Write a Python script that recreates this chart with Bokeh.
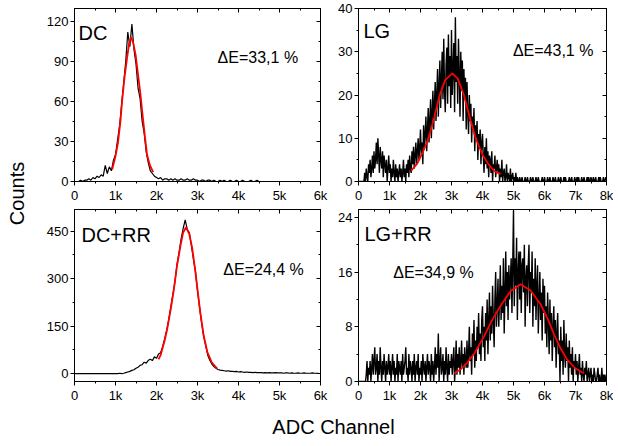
import numpy as np
from bokeh.plotting import figure
from bokeh.models import LinearAxis, FixedTicker, Range1d, Label, CustomLabelingPolicy
from bokeh.layouts import row, column
from bokeh.embed import file_html
from bokeh.resources import INLINE

FONT = "Liberation Sans"

# ---------------- data ----------------
dc_step = 50   # ADC channels per plotted bin (DC panels)
lg_step = 25   # ADC channels per plotted bin (LG panels)

# DC (0..6k)
dc_counts = [0, 0, 0, 1, 0, 1, 1, 2, 1, 3,
             2, 4, 3, 5, 4, 12, 6, 11, 8, 16,
             20, 31, 42, 58, 74, 90, 112, 101, 118, 99,
             88, 70, 62, 45, 36, 22, 14, 8, 6, 4,
             3, 2, 3, 1, 2, 2, 1, 2, 1, 2,
             1, 1, 2, 1, 1, 2, 1, 1, 2, 1,
             1, 0, 1, 1, 0, 1, 1, 0, 1, 0,
             0, 1, 0, 1, 0, 0, 1, 0, 0, 1,
             0, 0, 1, 0, 0, 0, 1, 0, 0, 1,
             0, 0, 0, 0, 0, 0, 0, 0, 0, 0,
             0, 0, 0, 0, 0, 0, 0, 0, 0, 0,
             0, 0, 0, 0, 0, 0, 0, 0, 0, 0]
dc_fit_x = [920, 1000, 1060, 1120, 1160, 1220, 1280, 1330, 1380, 1430, 1490,
            1550, 1610, 1660, 1720, 1770, 1840, 1920]
dc_fit_y = [9, 19, 29, 45, 60, 78, 92, 103, 108, 104, 95, 80, 65, 50, 33, 20, 12, 7]

# DC+RR (0..6k)
dcrr_counts = [0, 0, 0, 0, 0, 0, 0, 0, 0, 0,
               0, 0, 0, 0, 0, 0, 0, 0, 0, 0,
               0, 0, 1, 0, 1, 3, 5, 7, 10, 12,
               17, 20, 26, 28, 36, 33, 42, 45, 41, 53,
               48, 62, 66, 85, 110, 138, 172, 212, 250, 290,
               345, 382, 425, 458, 485, 455, 445, 405, 362, 322,
               262, 210, 160, 118, 88, 58, 42, 30, 22, 17,
               13, 11, 10, 9, 8, 9, 7, 7, 6, 7,
               5, 6, 5, 4, 5, 4, 4, 3, 4, 3,
               3, 3, 2, 3, 2, 3, 2, 2, 3, 2,
               2, 2, 1, 2, 2, 1, 2, 1, 1, 2,
               1, 1, 2, 1, 1, 1, 2, 1, 1, 1]
dcrr_fit_x = [2050, 2100, 2200, 2260, 2350, 2420, 2500, 2590, 2650, 2720, 2800,
              2870, 2950, 3000, 3070, 3150, 3240, 3350, 3480]
dcrr_fit_y = [45, 58, 105, 140, 205, 263, 340, 407, 445, 462, 440, 397, 320, 265,
              191, 120, 68, 35, 16]

# LG (0..8k)
lg_counts = [0, 0, 0, 0, 0, 0, 0, 0, 2, 0, 3, 1, 0, 4, 2, 5, 1, 3, 6, 2,
             7, 3, 5, 9, 4, 10, 6, 2, 8, 5, 3, 7, 1, 6, 4, 2, 5, 0, 3, 6,
             2, 4, 0, 3, 1, 5, 2, 0, 4, 1, 3, 0, 2, 4, 1, 3, 0, 2, 5, 1,
             3, 0, 4, 2, 5, 1, 6, 3, 2, 7, 4, 8, 3, 6, 9, 4, 7, 10, 5, 8,
             12, 6, 9, 4, 13, 8, 11, 15, 7, 12, 17, 9, 14, 19, 10, 16, 21, 12, 18, 23,
             14, 20, 26, 15, 22, 28, 17, 24, 30, 19, 33, 21, 16, 27, 31, 18, 34, 22, 29, 17,
             35, 20, 26, 32, 16, 38, 23, 29, 18, 33, 25, 15, 30, 21, 28, 14, 26, 19, 24, 12,
             23, 16, 11, 20, 14, 18, 9, 15, 12, 17, 7, 13, 10, 14, 5, 11, 8, 12, 4, 9,
             11, 6, 2, 8, 4, 10, 3, 7, 1, 6, 5, 2, 7, 0, 4, 3, 6, 1, 3, 5,
             2, 4, 0, 3, 1, 5, 0, 2, 3, 0, 1, 4, 0, 2, 1, 0, 3, 0, 1, 2,
             0, 1, 0, 2, 0, 1, 0, 0, 1, 0, 0, 1, 0, 0, 0, 1, 0, 0, 1, 0,
             0, 0, 1, 0, 0, 1, 0, 0, 0, 1, 0, 0, 1, 0, 0, 0, 0, 1, 0, 0,
             1, 0, 0, 0, 1, 0, 0, 1, 0, 0, 0, 1, 0, 0, 1, 0, 0, 0, 1, 0,
             0, 1, 0, 0, 0, 1, 0, 1, 0, 0, 0, 0, 1, 0, 0, 1, 0, 0, 0, 1,
             0, 0, 1, 0, 1, 0, 0, 0, 1, 0, 0, 1, 0, 0, 0, 1, 0, 1, 0, 0,
             1, 0, 0, 1, 0, 0, 1, 0, 0, 0, 1, 0, 1, 0, 0, 0, 1, 0, 0, 1]
lg_fit_x = [1700, 1900, 2100, 2260, 2450, 2620, 2800, 3030, 3200, 3400, 3600,
            3780, 4000, 4200, 4370, 4580]
lg_fit_y = [2.5, 4.2, 7.2, 10, 15, 20, 23.5, 25, 23.8, 20, 14.5, 10, 6.2, 3.9, 2.5, 1.7]

# LG+RR (0..8k)
lgrr_counts = [0, 0, 0, 0, 0, 0, 0, 0, 0, 0, 1, 3, 0, 2, 1, 3, 0, 2, 4, 1,
               3, 5, 1, 2, 4, 0, 3, 1, 5, 2, 0, 3, 1, 4, 2, 0, 3, 1, 2, 4,
               1, 3, 0, 2, 4, 1, 3, 0, 2, 1, 4, 0, 3, 2, 1, 3, 0, 4, 1, 2,
               3, 5, 1, 2, 0, 4, 1, 3, 2, 0, 3, 1, 4, 0, 2, 3, 1, 4, 0, 2,
               1, 3, 0, 4, 2, 1, 3, 0, 2, 4, 1, 3, 2, 0, 4, 1, 3, 0, 2, 5,
               1, 4, 2, 7, 0, 3, 5, 1, 2, 4, 0, 3, 1, 5, 2, 0, 4, 1, 3, 2,
               4, 1, 3, 5, 0, 2, 6, 1, 4, 2, 5, 1, 3, 6, 2, 4, 1, 5, 3, 2,
               6, 2, 4, 8, 3, 5, 1, 7, 4, 9, 2, 6, 3, 8, 5, 10, 4, 7, 3, 9,
               11, 5, 8, 3, 10, 6, 12, 4, 9, 13, 6, 11, 7, 14, 9, 5, 12, 16, 8, 11,
               15, 8, 12, 17, 9, 14, 10, 18, 7, 13, 19, 11, 16, 9, 17, 12, 15, 18, 10, 17,
               25, 11, 18, 14, 21, 9, 16, 19, 12, 19, 10, 17, 18, 13, 20, 8, 15, 17, 11, 17,
               20, 10, 16, 13, 19, 8, 15, 11, 18, 9, 14, 17, 7, 12, 16, 9, 13, 6, 15, 10,
               14, 7, 11, 5, 13, 9, 4, 12, 6, 10, 3, 8, 11, 5, 9, 2, 7, 10, 4, 6,
               0, 8, 3, 6, 1, 9, 4, 2, 7, 3, 5, 0, 6, 2, 4, 1, 5, 0, 3, 2,
               4, 1, 3, 0, 2, 4, 1, 2, 0, 3, 1, 0, 2, 1, 3, 0, 1, 2, 0, 1,
               2, 0, 1, 0, 2, 1, 0, 0, 1, 2, 0, 1, 0, 0, 2, 0, 1, 0, 1, 0]
lgrr_fit_x = [3090, 3300, 3500, 3750, 4050, 4300, 4590, 4900, 5230, 5550, 5870,
              6100, 6300, 6500, 6730, 7000, 7270]
lgrr_fit_y = [1.2, 1.8, 2.7, 4.2, 6.6, 8.9, 11.1, 13.2, 14.2, 13.3, 11.3, 9.2, 7.0,
              5.0, 3.2, 1.9, 1.2]

# ticks
x6_ticks = [0, 1000, 2000, 3000, 4000, 5000, 6000]
x6_labels = ["0", "1k", "2k", "3k", "4k", "5k", "6k"]
x8_ticks = [0, 1000, 2000, 3000, 4000, 5000, 6000, 7000, 8000]
x8_labels = ["0", "1k", "2k", "3k", "4k", "5k", "6k", "7k", "8k"]
dc_yticks = [0, 30, 60, 90, 120]
lg_yticks = [0, 10, 20, 30, 40]
dcrr_yticks = [0, 150, 300, 450]
lgrr_yticks = [0, 8, 16, 24]


def minor_of(ticks, lo, hi):
    step = (ticks[1] - ticks[0]) / 2.0
    out = []
    v = ticks[0] - step * 4
    while v <= hi + 1e-9:
        if v >= lo - 1e-9:
            out.append(v)
        v += step
    return out


NO_LABELS = CustomLabelingPolicy(code="""
const n = indices.size;
for (let i = 0; i < n; i++) { indices.unset(i); }
return indices;
""")


def make_panel(width, height, bl, br, bt, bb, xr, yr, xticks, xlabels, yticks):
    p = figure(width=width, height=height, title=None,
               x_range=Range1d(*xr), y_range=Range1d(*yr),
               output_backend="svg", toolbar_location=None,
               min_border_left=bl, min_border_right=br,
               min_border_top=bt, min_border_bottom=bb)
    p.grid.visible = False
    p.outline_line_color = "black"
    p.background_fill_color = "white"
    p.border_fill_color = "white"
    xt = FixedTicker(ticks=xticks, minor_ticks=minor_of(xticks, *xr))
    yt = FixedTicker(ticks=yticks, minor_ticks=minor_of(yticks, *yr))
    for ax, tk in ((p.xaxis[0], xt), (p.yaxis[0], yt)):
        ax.ticker = tk
        ax.major_tick_out = 4
        ax.major_tick_in = 0
        ax.minor_tick_out = 2
        ax.minor_tick_in = 0
        ax.major_label_standoff = 2
        ax.major_label_text_font = FONT
        ax.major_label_text_font_size = "13px"
        ax.major_label_text_color = "black"
        ax.axis_line_color = "black"
        ax.major_tick_line_color = "black"
        ax.minor_tick_line_color = "black"
    p.xaxis[0].major_label_overrides = {t: l for t, l in zip(xticks, xlabels)}
    for side, tk in (("above", xt), ("right", yt)):
        ax = LinearAxis(ticker=tk, major_label_policy=NO_LABELS,
                        major_label_text_font_size="1px",
                        major_label_standoff=0,
                        major_tick_in=4, major_tick_out=0,
                        minor_tick_in=2, minor_tick_out=0,
                        axis_line_color="black",
                        major_tick_line_color="black",
                        minor_tick_line_color="black")
        p.add_layout(ax, side)
    return p


def add_texts(p, name, nx, ny, de, dx, dy):
    p.add_layout(Label(x=nx, y=ny, text=name, text_font=FONT, text_font_size="20px",
                       text_color="black", text_baseline="alphabetic"))
    p.add_layout(Label(x=dx, y=dy, text=de, text_font=FONT, text_font_size="16px",
                       text_color="black", text_baseline="alphabetic"))


def draw(p, counts, step, fx, fy, lw):
    x = np.arange(len(counts)) * step
    p.line(x, counts, line_color="black", line_width=lw)
    p.line(fx, fy, line_color="red", line_width=1.8)


p1 = make_panel(297, 205, 36, 15, 8, 22, (0, 6000), (0, 129.6), x6_ticks, x6_labels, dc_yticks)
draw(p1, dc_counts, dc_step, dc_fit_x, dc_fit_y, 1.2)
add_texts(p1, "DC", 100, 111, "\u0394E=33,1 %", 3490, 93)

p2 = make_panel(278, 205, 22, 7, 8, 22, (0, 8000), (0, 40), x8_ticks, x8_labels, lg_yticks)
draw(p2, lg_counts, lg_step, lg_fit_x, lg_fit_y, 1.4)
add_texts(p2, "LG", 160, 34.7, "\u0394E=43,1 %", 4980, 30.2)

p3 = make_panel(297, 200, 36, 15, 2, 22, (0, 6000), (-25, 518), x6_ticks, x6_labels, dcrr_yticks)
draw(p3, dcrr_counts, dc_step, dcrr_fit_x, dcrr_fit_y, 1.2)
add_texts(p3, "DC+RR", 170, 437, "\u0394E=24,4 %", 3630, 330)

p4 = make_panel(278, 200, 22, 7, 2, 22, (0, 8000), (0, 25.14), x8_ticks, x8_labels, lgrr_yticks)
draw(p4, lgrr_counts, lg_step, lgrr_fit_x, lgrr_fit_y, 1.4)
add_texts(p4, "LG+RR", 190, 21.6, "\u0394E=34,9 %", 1120, 15.9)


def label_fig(w, h):
    f = figure(width=w, height=h, title=None, x_range=Range1d(0, w), y_range=Range1d(0, h),
               x_axis_type=None, y_axis_type=None, output_backend="svg",
               toolbar_location=None, min_border=0)
    f.outline_line_color = None
    f.grid.visible = False
    return f


left = label_fig(38, 405)
left.add_layout(Label(x=16, y=212, text="Counts", angle=np.pi / 2, text_align="center",
                      text_baseline="middle", text_font=FONT, text_font_size="20px",
                      text_color="black"))
bottom = label_fig(575, 32)
bottom.add_layout(Label(x=295, y=11, text="ADC Channel", text_align="center",
                        text_baseline="middle", text_font=FONT, text_font_size="20px",
                        text_color="black"))

layout = row(left, column(row(p1, p2), row(p3, p4), bottom))

open("out.html", "w").write(file_html(layout, INLINE))
